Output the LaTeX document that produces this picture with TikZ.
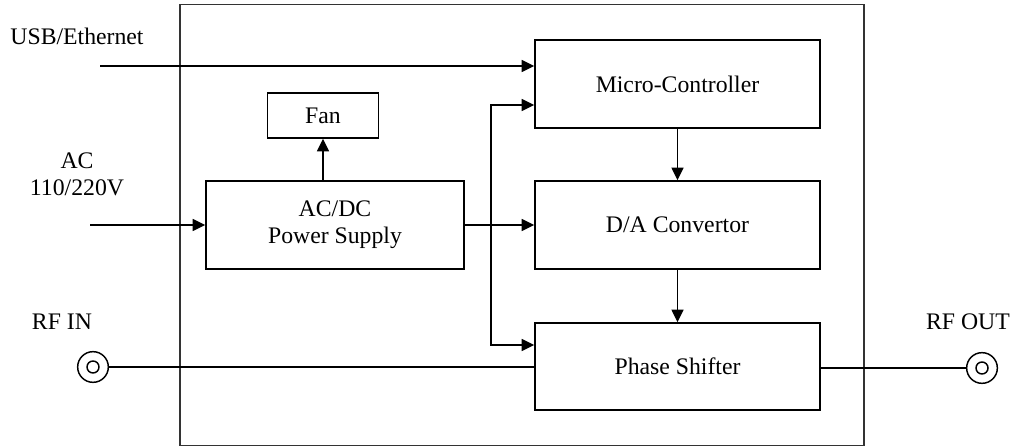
\documentclass[tikz,border=0pt]{standalone}
\usepackage{fontspec}
\setmainfont{Liberation Serif}
\usetikzlibrary{arrows.meta}
\begin{document}
\begin{tikzpicture}[x=0.75pt,y=-0.75pt,
  blk/.style={draw,line width=1.1pt,inner sep=0pt},
  wire/.style={line width=1.1pt},
  arr/.style={wire,-{Triangle[length=9.5pt,width=9pt]}},
  lbl/.style={font=\fontsize{17.8pt}{21pt}\selectfont,align=center},
  conn/.style={circle,draw,line width=1.1pt,minimum size=23pt,inner sep=0pt}]
\useasboundingbox (0,0) rectangle (1013,448);
\node[blk,draw=black!80,minimum width=684*0.75pt,minimum height=441*0.75pt] (outer) at (522,225) {};
\node[blk,minimum width=285*0.75pt,minimum height=88*0.75pt,lbl] (mc) at (677.5,84) {Micro-Controller};
\node[blk,minimum width=285*0.75pt,minimum height=88*0.75pt,lbl] (da) at (677.5,225) {D/A Convertor};
\node[blk,minimum width=285*0.75pt,minimum height=87*0.75pt,lbl] (ps) at (677.5,366.5) {Phase Shifter};
\node[blk,minimum width=258*0.75pt,minimum height=88*0.75pt,lbl] (psu) at (335,225) {AC/DC\\[-1pt]Power Supply};
\node[blk,minimum width=111*0.75pt,minimum height=45*0.75pt,lbl] (fan) at (323,115.5) {Fan};
\node[lbl,anchor=center] (usb) at (77,36) {USB/Ethernet};
\node[lbl] (ac) at (77,174) {AC\\[-1pt]110/220V};
\node[lbl] (rfin) at (62,322) {RF IN};
\node[lbl] (rfout) at (968,322) {RF OUT};
\node[conn] (cin) at (93,367) {};
\node[circle,draw,line width=1.1pt,minimum size=9pt,inner sep=0pt] (cin2) at (93,367) {};
\node[conn] (cout) at (982,368) {};
\node[circle,draw,line width=1.1pt,minimum size=9pt,inner sep=0pt] (cout2) at (982,368) {};
\coordinate (usbs) at (100,66);
\coordinate (acs) at (90,225);
\coordinate (bus) at (491,225);
\draw[arr] (usbs) -- (usbs -| mc.west);
\draw[arr] (acs) -- (psu.west);
\draw[arr] (psu.north -| fan.south) -- (fan.south);
\draw[arr] (psu.east) -- (da.west);
\draw[arr] (bus) |- (mc.west |- 0,105);
\draw[arr] (bus) |- (ps.west |- 0,345);
\draw[arr] (mc.south) -- (da.north);
\draw[arr] (da.south) -- (ps.north);
\draw[wire] (cin.east) -- (cin.east -| ps.west);
\draw[wire] (ps.east |- cout.west) -- (cout.west);
\end{tikzpicture}
\end{document}
